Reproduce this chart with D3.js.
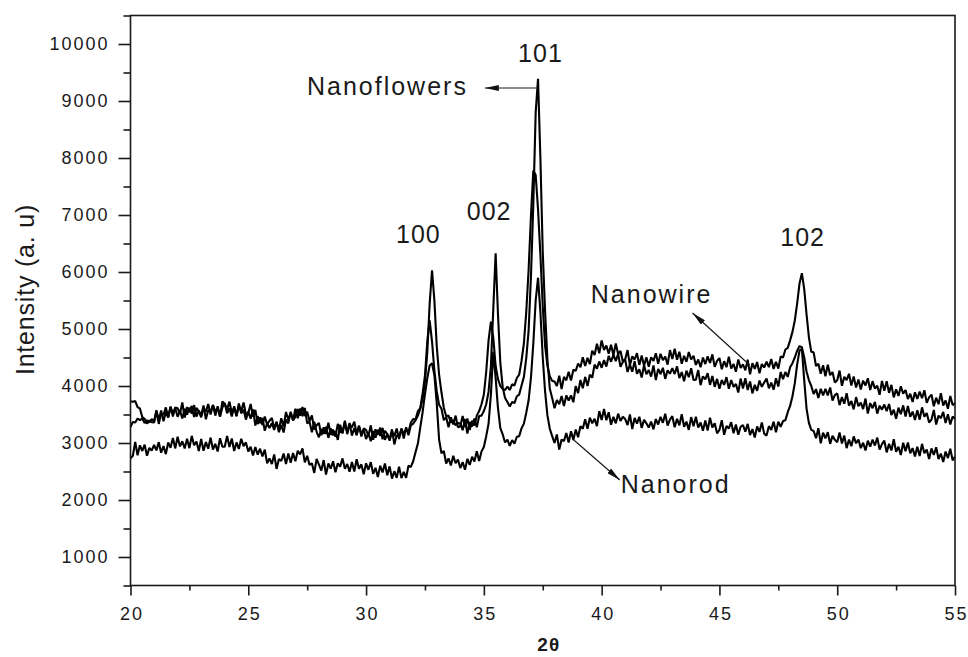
<!DOCTYPE html>
<html><head><meta charset="utf-8">
<script src="https://cdn.jsdelivr.net/npm/d3@7"></script>
<style>
html,body{margin:0;padding:0;background:#fff;}
svg text{font-family:"Liberation Sans", Arial, sans-serif; fill:#1a1a1a;}
</style></head><body>
<svg id="chart" width="968" height="657"></svg>
<script>
// sampling of the 2θ scans (degrees)
const twoThetaStart = 20, twoThetaStep = 0.1;

const nanowire = [
3730,3725,3735,3630,3605,3455,3425,3340,3395,3365,
3360,3560,3335,3520,3495,3625,3450,3635,3465,3625,
3610,3515,3710,3445,3630,3540,3650,3455,3615,3555,
3450,3615,3550,3685,3500,3665,3555,3615,3465,3730,
3685,3590,3725,3530,3625,3475,3660,3555,3710,3505,
3525,3685,3460,3580,3330,3450,3315,3465,3325,3390,
3440,3260,3360,3235,3435,3290,3545,3410,3525,3400,
3460,3595,3480,3630,3475,3550,3385,3485,3235,3310,
3350,3135,3275,3160,3355,3145,3235,3110,3335,3195,
3190,3390,3155,3330,3275,3375,3160,3305,3115,3255,
3230,3125,3310,3055,3240,3150,3270,3065,3215,3155,
3040,3205,3120,3255,3070,3255,3155,3245,3190,3360,
3420,3410,3560,3610,3870,4180,4790,5150,4780,4270,
3910,3670,3600,3400,3455,3275,3450,3325,3480,3275,
3295,3475,3280,3430,3230,3390,3305,3480,3560,3680,
3850,4250,4800,5130,4850,4350,4120,4000,3950,3930,
3990,3930,4030,4010,4140,4200,4440,4750,5300,6040,
6990,7780,7700,7100,6300,5400,4700,4350,4170,4090,
4080,4000,4180,3945,4160,4100,4250,4095,4285,4265,
4395,4330,4505,4350,4495,4385,4620,4545,4740,4575,
4800,4630,4710,4565,4725,4540,4745,4560,4615,4430,
4470,4630,4365,4520,4465,4575,4370,4535,4355,4505,
4340,4505,4440,4575,4390,4565,4455,4515,4375,4630,
4475,4655,4460,4600,4390,4530,4425,4595,4465,4530,
4370,4465,4330,4500,4385,4520,4405,4555,4335,4440,
4490,4295,4435,4330,4515,4305,4385,4250,4465,4315,
4380,4275,4460,4205,4400,4300,4420,4225,4385,4325,
4425,4330,4475,4300,4425,4305,4520,4500,4640,4670,
4800,4950,5150,5450,5800,5980,5700,5250,4850,4600,
4590,4350,4390,4215,4365,4170,4375,4190,4245,4060,
4100,4270,4005,4160,4105,4215,4010,4165,3975,4115,
3940,4095,4010,4135,3930,4085,3955,4005,3845,4090,
3915,4085,3880,4020,3800,3940,3825,3995,3865,3930,
3770,3865,3720,3890,3775,3900,3785,3925,3705,3800,
3850,3645,3795,3680,3875,3655,3745,3600,3825,3665,
3700];

const nanoflowers = [
3280,3370,3360,3430,3400,3430,3350,3400,3360,3420,
3375,3575,3400,3570,3380,3540,3445,3635,3525,3610,
3460,3565,3430,3600,3495,3620,3515,3665,3465,3570,
3480,3660,3415,3580,3545,3665,3480,3645,3465,3625,
3700,3520,3610,3465,3645,3470,3695,3520,3585,3410,
3550,3425,3590,3305,3470,3350,3440,3215,3345,3265,
3345,3230,3375,3190,3315,3185,3410,3345,3550,3395,
3600,3435,3605,3470,3615,3345,3375,3190,3375,3195,
3100,3245,3160,3285,3090,3255,3135,3205,3055,3320,
3165,3365,3190,3350,3130,3260,3135,3295,3165,3230,
3070,3175,3030,3210,3095,3230,3125,3265,3055,3160,
3060,3240,2975,3140,3105,3245,3080,3275,3135,3310,
3340,3400,3480,3600,3780,4080,4600,5450,6030,5500,
4700,4200,3890,3620,3470,3480,3360,3400,3310,3350,
3340,3225,3420,3165,3370,3290,3430,3275,3475,3480,
3560,3680,3900,4350,5350,6330,5250,4400,3980,3790,
3720,3640,3720,3700,3820,3850,4010,4160,4490,4970,
5930,7200,8800,9390,8000,6350,5300,4450,3950,3790,
3610,3755,3680,3825,3650,3835,3745,3835,3715,4000,
3875,4105,3960,4160,4000,4200,4145,4375,4305,4430,
4320,4455,4340,4530,4425,4550,4435,4565,4335,4420,
4460,4245,4375,4250,4435,4215,4295,4150,4365,4205,
4280,4165,4360,4105,4300,4210,4320,4125,4275,4215,
4315,4210,4345,4140,4245,4085,4270,4155,4310,4105,
4110,4280,4015,4170,4115,4225,4020,4175,3985,4125,
3950,4105,4020,4155,3950,4105,3985,4035,3885,4130,
3955,4135,3930,4080,3870,4020,3915,4095,3985,4060,
4130,3960,4060,3935,4135,3990,4245,4120,4245,4160,
4330,4400,4500,4620,4700,4680,4500,4250,4100,4000,
3860,3945,3790,3950,3835,3950,3835,3975,3745,3840,
3870,3665,3805,3690,3875,3655,3735,3590,3805,3645,
3710,3595,3780,3515,3700,3610,3720,3515,3655,3585,
3675,3560,3685,3490,3585,3425,3620,3505,3660,3465,
3650,3460,3550,3405,3575,3410,3625,3460,3525,3360,
3410,3580,3325,3480,3435,3545,3350,3505,3325,3465,
3420];

const nanorod = [
2730,2775,3020,2785,2960,2860,2970,2775,2915,2865,
2965,2870,3015,2830,2945,2805,3010,2915,3090,2905,
3110,2940,3030,2905,3075,2910,3125,2960,3025,2860,
3070,2865,3015,2900,3095,2885,2985,2850,3085,2935,
2935,3125,2930,3080,2860,3010,2895,3075,2945,3010,
2850,2935,2780,2930,2795,2900,2765,2885,2645,2730,
2630,2800,2545,2720,2685,2815,2630,2815,2655,2825,
2680,2865,2800,2905,2660,2775,2615,2645,2475,2720,
2620,2515,2700,2445,2640,2550,2680,2485,2645,2585,
2730,2550,2630,2495,2665,2500,2715,2550,2625,2450,
2645,2530,2665,2460,2565,2405,2600,2485,2640,2435,
2590,2375,2505,2390,2585,2385,2495,2390,2600,2580,
2680,2840,2990,3270,3540,3860,4140,4360,4400,4190,
3700,3060,2820,2860,2640,2730,2605,2775,2645,2710,
2560,2665,2530,2720,2615,2760,2675,2855,2685,2850,
2930,3120,3340,3860,4600,4140,3610,3260,3150,3010,
3060,2950,3050,2990,3110,3120,3260,3340,3530,3750,
4150,4750,5500,5900,5300,4500,3900,3480,3250,3120,
3000,3150,2885,3060,3035,3175,3010,3205,3055,3235,
3100,3295,3250,3415,3250,3445,3345,3425,3295,3560,
3405,3595,3400,3540,3320,3460,3345,3515,3385,3460,
3420,3315,3500,3245,3440,3340,3460,3265,3405,3345,
3270,3375,3240,3420,3325,3460,3355,3515,3305,3410,
3470,3275,3425,3310,3505,3285,3375,3230,3455,3295,
3460,3270,3360,3215,3395,3220,3445,3270,3345,3170,
3230,3400,3145,3300,3255,3365,3170,3325,3145,3285,
3315,3200,3335,3140,3245,3095,3290,3195,3360,3165,
3130,3295,3230,3375,3190,3375,3285,3385,3400,3540,
3650,3820,4050,4380,4620,4650,4100,3600,3350,3230,
3210,3085,3260,2995,3180,3080,3190,2985,3125,3055,
3015,3185,2990,3130,2910,3060,2945,3115,2995,3060,
2910,3005,2870,3040,2935,3060,2955,3095,2885,2980,
3040,2835,2985,2870,3065,2845,2935,2790,3005,2855,
3010,2820,2910,2765,2935,2770,2985,2820,2885,2720,
2905,2790,2925,2720,2815,2665,2850,2735,2900,2695,
2760];

const xMajorTicks = [20, 25, 30, 35, 40, 45, 50, 55];
const xMinorTicks = [22.5, 27.5, 32.5, 37.5, 42.5, 47.5, 52.5];
const yMajorTicks = [1000, 2000, 3000, 4000, 5000, 6000, 7000, 8000, 9000, 10000];
const yMinorTicks = [500, 1500, 2500, 3500, 4500, 5500, 6500, 7500, 8500, 9500, 10500];

const peakLabelText = ["100", "002", "101", "102"];
const peakLabelTheta = [32.18, 35.18, 37.36, 48.49];
const peakLabelIntensity = [6514, 6912, 9679, 6456];

const sampleNames = ["Nanoflowers", "Nanowire", "Nanorod"];
const sampleLabelTheta = [27.49, 39.54, 40.81];
const sampleLabelIntensity = [9114, 5451, 2128];
const arrowFromTheta = [37.28, 46.28, 38.77];
const arrowFromIntensity = [9228, 4368, 3070];
const arrowToTheta = [35.04, 43.86, 40.77];
const arrowToIntensity = [9228, 5281, 2351];

const svg = d3.select("#chart");
const mLeft = 130.5, mRight = 955, mTop = 15.5, mBottom = 585.5;
const x = d3.scaleLinear().domain([20, 55]).range([mLeft, mRight]);
const y = d3.scaleLinear().domain([500, 10500]).range([mBottom, mTop]);

const defs = svg.append("defs");
defs.append("marker").attr("id", "ah")
  .attr("viewBox", "0 0 14 6").attr("refX", 14).attr("refY", 3)
  .attr("markerWidth", 14).attr("markerHeight", 6)
  .attr("markerUnits", "userSpaceOnUse").attr("orient", "auto")
  .append("path").attr("d", "M0,0 L14,3 L0,6 Z").attr("fill", "#111");

// series
const line = d3.line()
  .x((d, i) => x(twoThetaStart + i * twoThetaStep))
  .y(d => y(d));
[nanowire, nanoflowers, nanorod].forEach(s => {
  svg.append("path").datum(s).attr("d", line)
    .attr("fill", "none").attr("stroke", "#000")
    .attr("stroke-width", 2.1).attr("stroke-linejoin", "bevel");
});

// axes
function styleAxis(g) {
  g.select(".domain").remove();
  g.selectAll(".tick line").attr("stroke", "#1a1a1a").attr("stroke-width", 1.6);
  g.selectAll("text").style("font-size", "18px").style("letter-spacing", "2px")
    .attr("fill", "#1a1a1a");
}
svg.append("g").attr("transform", `translate(0,${mBottom})`)
  .call(d3.axisBottom(x).tickValues(xMinorTicks).tickSize(5).tickFormat(""))
  .call(styleAxis);
svg.append("g").attr("transform", `translate(0,${mBottom})`)
  .call(d3.axisBottom(x).tickValues(xMajorTicks).tickSize(10).tickPadding(12).tickFormat(d3.format("d")))
  .call(styleAxis)
  .call(g => g.selectAll("text").attr("dx", "1"));
svg.append("g").attr("transform", `translate(${mLeft},0)`)
  .call(d3.axisLeft(y).tickValues(yMinorTicks).tickSize(7).tickFormat(""))
  .call(styleAxis);
svg.append("g").attr("transform", `translate(${mLeft},0)`)
  .call(d3.axisLeft(y).tickValues(yMajorTicks).tickSize(12).tickPadding(9).tickFormat(d3.format("d")))
  .call(styleAxis);

// frame
svg.append("rect").attr("x", mLeft).attr("y", mTop)
  .attr("width", mRight - mLeft).attr("height", mBottom - mTop)
  .attr("fill", "none").attr("stroke", "#1a1a1a").attr("stroke-width", 1.6);

// axis titles
svg.append("text").attr("x", (mLeft + mRight) / 2 + 6).attr("y", 651)
  .attr("text-anchor", "middle").style("font-size", "19px").style("font-weight", "bold")
  .style("letter-spacing", "1px").text("2θ");
svg.append("text").attr("transform", `translate(25.5,${(mTop + mBottom) / 2 - 11}) rotate(-90)`)
  .attr("text-anchor", "middle").attr("dy", "0.35em")
  .style("font-size", "25px").style("letter-spacing", "0.8px").attr("fill", "#000")
  .text("Intensity (a. u)");

// peak labels
peakLabelText.forEach((t, i) => {
  svg.append("text").attr("x", x(peakLabelTheta[i]) + 1).attr("y", y(peakLabelIntensity[i]))
    .attr("text-anchor", "middle").style("font-size", "25px").style("letter-spacing", "1px")
    .text(t);
});

// sample labels + arrows
sampleNames.forEach((t, i) => {
  svg.append("line")
    .attr("x1", x(arrowFromTheta[i])).attr("y1", y(arrowFromIntensity[i]))
    .attr("x2", x(arrowToTheta[i])).attr("y2", y(arrowToIntensity[i]))
    .attr("stroke", "#1a1a1a").attr("stroke-width", 1.2).attr("marker-end", "url(#ah)");
  svg.append("text").attr("x", x(sampleLabelTheta[i])).attr("y", y(sampleLabelIntensity[i]))
    .attr("text-anchor", "start").style("font-size", "25px").style("letter-spacing", "2px")
    .text(t);
});
</script>
</body></html>
